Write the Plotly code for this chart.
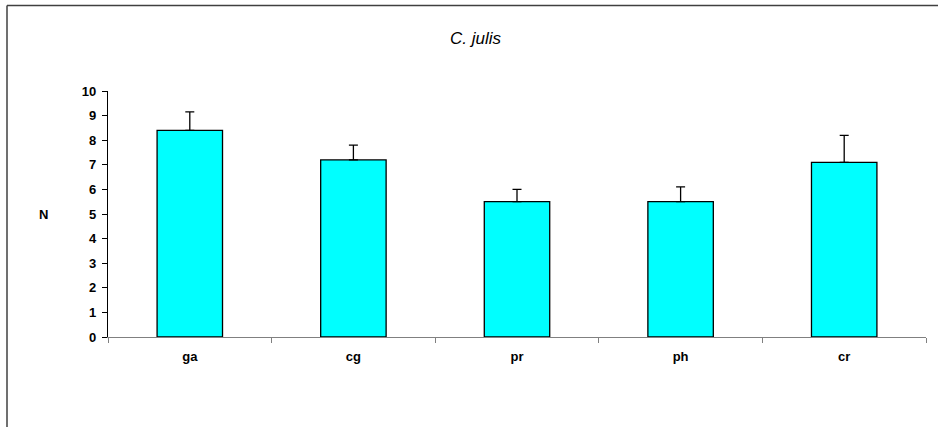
import plotly.graph_objects as go

# Mean counts per site with standard errors
sites = ["ga", "cg", "pr", "ph", "cr"]
means = [8.4, 7.2, 5.5, 5.5, 7.1]
errors = [0.75, 0.6, 0.5, 0.6, 1.1]
y_ticks = list(range(0, 11))

fig = go.Figure()
fig.add_trace(go.Bar(
    x=sites,
    y=means,
    width=0.4,
    marker=dict(color="#00FFFF", line=dict(color="#000000", width=1.3)),
    error_y=dict(
        type="data",
        symmetric=False,
        array=errors,
        arrayminus=[0] * len(errors),
        color="#000000",
        thickness=1.3,
        width=4.5,
    ),
    showlegend=False,
))

FAMILY = "Liberation Sans, Arial, sans-serif"
font_bold = dict(family=FAMILY, size=13, color="#000000", weight="bold")

# Outer chart frame: only its left and top edges fall inside the page
frame_left = (7 - 108) / 818
frame_top = (337 - 5.5) / 246
frame_right = (938 - 108) / 818
frame_bottom = (337 - 427) / 246
frame = dict(color="#404040", width=1.5)

fig.update_layout(
    width=938,
    height=427,
    margin=dict(l=108, r=12, t=91, b=90),
    paper_bgcolor="white",
    plot_bgcolor="white",
    bargap=0.6,
    xaxis=dict(
        type="category",
        showline=True,
        linecolor="#808080",
        linewidth=1.3,
        ticks="outside",
        tickson="boundaries",
        ticklen=5,
        tickcolor="#808080",
        tickwidth=1.3,
        tickfont=font_bold,
        ticklabelstandoff=7,
        showgrid=False,
        zeroline=False,
    ),
    yaxis=dict(
        range=[0, 10],
        tickvals=y_ticks,
        showline=True,
        linecolor="#000000",
        linewidth=1.3,
        ticks="outside",
        ticklen=5,
        tickcolor="#000000",
        tickwidth=1.3,
        tickfont=font_bold,
        ticklabelstandoff=3,
        showgrid=False,
        zeroline=False,
    ),
    shapes=[
        dict(type="line", xref="paper", yref="paper",
             x0=frame_left, x1=frame_left, y0=frame_bottom, y1=frame_top,
             line=frame, layer="below"),
        dict(type="line", xref="paper", yref="paper",
             x0=frame_left, x1=frame_right, y0=frame_top, y1=frame_top,
             line=frame, layer="below"),
    ],
    annotations=[
        dict(
            text="<i>C. julis</i>",
            xref="paper", yref="paper",
            x=(476 - 108) / 818, y=(337 - 38) / 246,
            xanchor="center", yanchor="middle",
            showarrow=False,
            font=dict(family=FAMILY, size=17, color="#000000"),
        ),
        dict(
            text="N",
            xref="paper", yref="paper",
            x=(43 - 108) / 818, y=(337 - 214) / 246,
            xanchor="center", yanchor="middle",
            showarrow=False,
            font=font_bold,
        ),
    ],
)

fig.write_html("out.html")
